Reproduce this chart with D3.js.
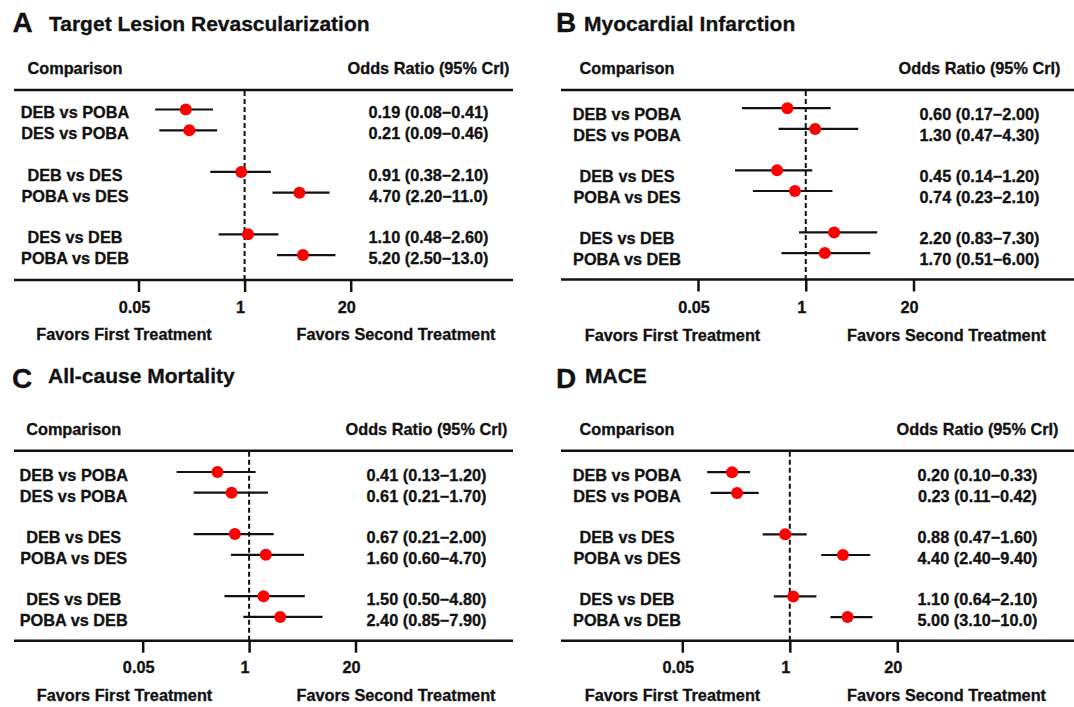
<!DOCTYPE html>
<html><head><meta charset="utf-8">
<script src="https://cdn.jsdelivr.net/npm/d3@7/dist/d3.min.js"></script>
<style>
body{margin:0;background:#fff}
svg{display:block}
text{font-family:"Liberation Sans",Arial,Helvetica,sans-serif;font-weight:bold;fill:#111;stroke:#111;stroke-width:0.3px}
</style>
</head><body>
<svg id="chart" width="1074" height="707"></svg>
<script>
// ---------- data ----------
const comparisons = ["DEB vs POBA","DES vs POBA","DEB vs DES","POBA vs DES","DES vs DEB","POBA vs DEB"];
const rowSlots = [0,1,3,4,6,7];
const tickValues = [0.05, 1, 20];
const panelLetters = ["A","B","C","D"];
const panelTitles = ["Target Lesion Revascularization","Myocardial Infarction","All-cause Mortality","MACE"];
const headerLeft = "Comparison";
const headerRight = "Odds Ratio (95% CrI)";
const favorsLeft = "Favors First Treatment";
const favorsRight = "Favors Second Treatment";

const tlrOR = [0.19, 0.21, 0.91, 4.70, 1.10, 5.20];
const tlrLo = [0.08, 0.09, 0.38, 2.20, 0.48, 2.50];
const tlrHi = [0.41, 0.46, 2.10, 11.0, 2.60, 13.0];

const miOR = [0.60, 1.30, 0.45, 0.74, 2.20, 1.70];
const miLo = [0.17, 0.47, 0.14, 0.23, 0.83, 0.51];
const miHi = [2.00, 4.30, 1.20, 2.10, 7.30, 6.00];

const acmOR = [0.41, 0.61, 0.67, 1.60, 1.50, 2.40];
const acmLo = [0.13, 0.21, 0.21, 0.60, 0.50, 0.85];
const acmHi = [1.20, 1.70, 2.00, 4.70, 4.80, 7.90];

const maceOR = [0.20, 0.23, 0.88, 4.40, 1.10, 5.00];
const maceLo = [0.10, 0.11, 0.47, 2.40, 0.64, 3.10];
const maceHi = [0.33, 0.42, 1.60, 9.40, 2.10, 10.0];

const seriesOR = [tlrOR, miOR, acmOR, maceOR];
const seriesLo = [tlrLo, miLo, acmLo, maceLo];
const seriesHi = [tlrHi, miHi, acmHi, maceHi];

// ---------- layout (pixel geometry per panel) ----------
const layouts = [
  {letterX:12.5, letterY:32.3, titleX:49, titleY:31, lineX0:14, lineX1:513, topY:90, botY:280,
   tickX0:138.5, tickX1:350.7, labelCX:75, valueCX:428.5, headerC:68, rowC0:112.5, rowStep:20.8,
   pointDy:-3, tickLabelC:306.8, favC:334, favLCX:124, favRCX:396},
  {letterX:556, letterY:32, titleX:584, titleY:30.5, lineX0:561, lineX1:1074, topY:90, botY:279.5,
   tickX0:698, tickX1:913.5, labelCX:627, valueCX:979.5, headerC:68, rowC0:114.2, rowStep:20.7,
   pointDy:-6, tickLabelC:307, favC:334.7, favLCX:672.5, favRCX:946.5},
  {letterX:12, letterY:388, titleX:48, titleY:383, lineX0:14, lineX1:513, topY:450.7, botY:640.7,
   tickX0:142.7, tickX1:355.5, labelCX:73.7, valueCX:426.5, headerC:429.2, rowC0:475.2, rowStep:20.7,
   pointDy:-3.2, tickLabelC:667.2, favC:695.3, favLCX:124.5, favRCX:396},
  {letterX:556, letterY:388, titleX:585, titleY:383, lineX0:561, lineX1:1074, topY:450.7, botY:640.7,
   tickX0:682.3, tickX1:897.3, labelCX:627, valueCX:977.5, headerC:429.2, rowC0:475.2, rowStep:20.7,
   pointDy:-3, tickLabelC:667.2, favC:695.3, favLCX:672.5, favRCX:946.5}
];

const FS = 16.3;          // body font size
const CAP = 0.716 * FS;   // cap height
const base = c => c + CAP / 2;

const fmt = v => v >= 10 ? v.toFixed(1) : v.toFixed(2);

const svg = d3.select("#chart");

layouts.forEach((L, p) => {
  const g = svg.append("g");

  // title
  g.append("text").attr("x", L.letterX).attr("y", L.letterY)
    .style("font-size", "28px").text(panelLetters[p]);
  g.append("text").attr("x", L.titleX).attr("y", L.titleY)
    .style("font-size", "21px").text(panelTitles[p]);

  // headers
  g.append("text").attr("x", L.labelCX).attr("y", base(L.headerC))
    .attr("text-anchor", "middle").style("font-size", FS + "px").text(headerLeft);
  g.append("text").attr("x", L.valueCX).attr("y", base(L.headerC))
    .attr("text-anchor", "middle").style("font-size", FS + "px").text(headerRight);

  // scales
  const x = d3.scaleLog().domain([tickValues[0], tickValues[2]]).range([L.tickX0, L.tickX1]);
  const y = d3.scaleLinear().domain([0, 1]).range([L.rowC0, L.rowC0 + L.rowStep]);

  // rule lines
  g.append("line").attr("x1", L.lineX0).attr("x2", L.lineX1).attr("y1", L.topY).attr("y2", L.topY)
    .attr("stroke", "#111").attr("stroke-width", 2.5);

  // reference line at OR = 1
  g.append("line").attr("x1", x(1)).attr("x2", x(1)).attr("y1", L.topY + 1).attr("y2", L.botY)
    .attr("stroke", "#111").attr("stroke-width", 2).attr("stroke-dasharray", "5,3");

  // axis
  const axis = d3.axisBottom(x).tickValues(tickValues).tickSize(12).tickFormat(d3.format("~g"));
  const ag = g.append("g").attr("transform", `translate(0,${L.botY})`).call(axis);
  ag.select(".domain").remove();
  ag.selectAll(".tick line").attr("stroke", "#111").attr("stroke-width", 2.5);
  ag.selectAll(".tick text")
    .attr("y", 0).attr("dy", null)
    .attr("transform", `translate(-4.5,${base(L.tickLabelC) - L.botY})`)
    .style("font-size", FS + "px").style("font-family", null).attr("fill", "#111");
  g.append("line").attr("x1", L.lineX0).attr("x2", L.lineX1).attr("y1", L.botY).attr("y2", L.botY)
    .attr("stroke", "#111").attr("stroke-width", 2.5);

  // rows
  const rows = comparisons.map((c, i) => ({
    label: c, slot: rowSlots[i], or: seriesOR[p][i], lo: seriesLo[p][i], hi: seriesHi[p][i]
  }));

  g.selectAll(".lab").data(rows).join("text").attr("class", "lab")
    .attr("x", L.labelCX).attr("y", d => base(y(d.slot)))
    .attr("text-anchor", "middle").style("font-size", FS + "px").text(d => d.label);

  g.selectAll(".val").data(rows).join("text").attr("class", "val")
    .attr("x", L.valueCX).attr("y", d => base(y(d.slot)))
    .attr("text-anchor", "middle").style("font-size", FS + "px")
    .text(d => `${fmt(d.or)} (${fmt(d.lo)}\u2212${fmt(d.hi)})`);

  g.selectAll(".ci").data(rows).join("line").attr("class", "ci")
    .attr("x1", d => x(d.lo)).attr("x2", d => x(d.hi))
    .attr("y1", d => y(d.slot) + L.pointDy).attr("y2", d => y(d.slot) + L.pointDy)
    .attr("stroke", "#111").attr("stroke-width", 2.2);

  g.selectAll(".pt").data(rows).join("circle").attr("class", "pt")
    .attr("cx", d => x(d.or)).attr("cy", d => y(d.slot) + L.pointDy)
    .attr("r", 6).attr("fill", "#ff0000");

  // favors labels
  g.append("text").attr("x", L.favLCX).attr("y", base(L.favC))
    .attr("text-anchor", "middle").style("font-size", FS + "px").text(favorsLeft);
  g.append("text").attr("x", L.favRCX).attr("y", base(L.favC))
    .attr("text-anchor", "middle").style("font-size", FS + "px").text(favorsRight);
});
</script>
</body></html>
